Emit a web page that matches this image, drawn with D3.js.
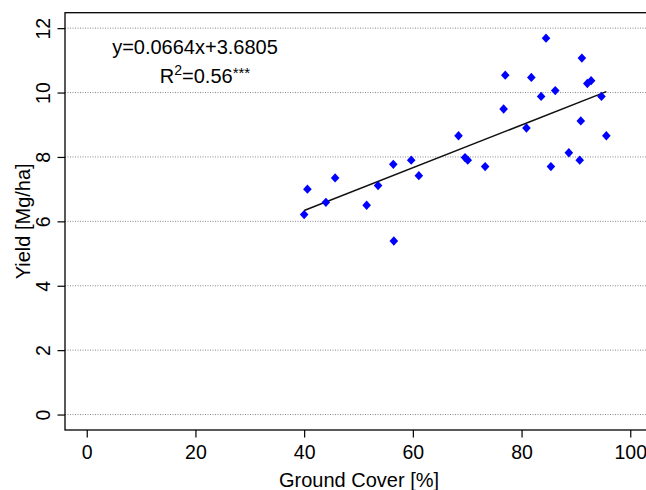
<!DOCTYPE html>
<html>
<head>
<meta charset="utf-8">
<script src="https://cdn.jsdelivr.net/npm/d3@7"></script>
<style>
  body { margin: 0; background: #fff; }
  svg { font-family: "Liberation Sans", Arial, Helvetica, sans-serif; }
</style>
</head>
<body>
<svg id="chart"></svg>
<script>
// ground cover [%] and yield [Mg/ha]
const groundCover = [40.0, 40.6, 44.0, 45.7, 51.5, 53.6, 56.4, 56.5, 59.7, 61.1,
  68.4, 69.6, 70.1, 73.3, 76.7, 77.0, 80.9, 81.8, 83.6, 84.5,
  85.4, 86.2, 88.7, 90.7, 90.9, 91.1, 92.1, 92.8, 94.7, 95.6];
const yieldVals = [6.21, 7.0, 6.59, 7.35, 6.5, 7.11, 7.77, 5.39, 7.9, 7.42,
  8.66, 7.98, 7.9, 7.7, 9.49, 10.54, 8.9, 10.47, 9.88, 11.69,
  7.7, 10.06, 8.13, 7.9, 9.12, 11.07, 10.28, 10.37, 9.88, 8.66];
const slope = 0.0664;
const intercept = 3.6805;
const xTicks = [0, 20, 40, 60, 80, 100];
const yTicks = [0, 2, 4, 6, 8, 10, 12];

const width = 646;
const height = 490;
const margin = { top: 12.7, right: -6, bottom: 60, left: 65 };
const innerWidth = width - margin.left - margin.right;
const innerHeight = height - margin.top - margin.bottom;

const svg = d3.select('#chart')
  .attr('width', width)
  .attr('height', height);

const g = svg.append('g')
  .attr('transform', `translate(${margin.left},${margin.top})`);

// R style 4% padding on both axes
const xScale = d3.scaleLinear().domain([-4, 104]).range([0, innerWidth]);
const yScale = d3.scaleLinear().domain([-0.48, 12.48]).range([innerHeight, 0]);

// dotted grid
g.selectAll('.grid')
  .data(yTicks)
  .enter().append('line')
  .attr('x1', 0)
  .attr('x2', innerWidth)
  .attr('y1', d => yScale(d))
  .attr('y2', d => yScale(d))
  .attr('stroke', '#8a8a8a')
  .attr('stroke-width', 1)
  .attr('stroke-dasharray', '1,1.5');

// box
g.append('rect')
  .attr('width', innerWidth)
  .attr('height', innerHeight)
  .attr('fill', 'none')
  .attr('stroke', '#000')
  .attr('stroke-width', 1.3);

const xAxis = g.append('g')
  .attr('transform', `translate(0,${innerHeight})`)
  .call(d3.axisBottom(xScale).tickValues(xTicks).tickSize(7.5).tickPadding(8).tickFormat(d3.format('d')));
xAxis.select('.domain').remove();
xAxis.selectAll('line').attr('stroke', '#000').attr('stroke-width', 1.2);
xAxis.selectAll('text')
  .attr('fill', '#000')
  .style('font-size', '19.5px');

const yAxis = g.append('g')
  .call(d3.axisLeft(yScale).tickValues(yTicks).tickSize(7.5).tickFormat(d3.format('d')));
yAxis.select('.domain').remove();
yAxis.selectAll('line').attr('stroke', '#000').attr('stroke-width', 1.2);
yAxis.selectAll('text')
  .attr('fill', '#000')
  .attr('x', 0)
  .attr('dy', 0)
  .attr('text-anchor', 'middle')
  .attr('transform', 'translate(-15,0) rotate(-90)')
  .style('font-size', '19.5px');

// fitted line over the data range
const xExtent = d3.extent(groundCover);
const line = d3.line()
  .x(d => xScale(d))
  .y(d => yScale(slope * d + intercept));
g.append('path')
  .datum(xExtent)
  .attr('fill', 'none')
  .attr('stroke', '#111')
  .attr('stroke-width', 1.5)
  .attr('d', line);

// filled diamonds
const diamond = 'M0,-4.7L4.3,0L0,4.7L-4.3,0Z';
g.selectAll('.pt')
  .data(groundCover)
  .enter().append('path')
  .attr('d', diamond)
  .attr('transform', (d, i) => `translate(${xScale(d)},${yScale(yieldVals[i])})`)
  .attr('fill', '#0000ff');

// equation text
g.append('text')
  .attr('x', 195 - margin.left)
  .attr('y', 54 - margin.top)
  .attr('text-anchor', 'middle')
  .style('font-size', '20px')
  .text(`y=${slope}x+${intercept}`);

const r2 = g.append('text')
  .attr('x', 205 - margin.left)
  .attr('y', 83.3 - margin.top)
  .attr('text-anchor', 'middle')
  .style('font-size', '20px');
r2.append('tspan').text('R');
r2.append('tspan').attr('dy', -8).style('font-size', '14px').text('2');
r2.append('tspan').attr('dy', 8).text('=0.56');
r2.append('tspan').attr('dy', -5).style('font-size', '15px').text('***');

// axis titles
svg.append('text')
  .attr('x', 359)
  .attr('y', 486.5)
  .attr('text-anchor', 'middle')
  .style('font-size', '20px')
  .text('Ground Cover [%]');

svg.append('text')
  .attr('transform', `translate(30,${margin.top + innerHeight / 2}) rotate(-90)`)
  .attr('text-anchor', 'middle')
  .style('font-size', '20px')
  .text('Yield [Mg/ha]');
</script>
</body>
</html>
